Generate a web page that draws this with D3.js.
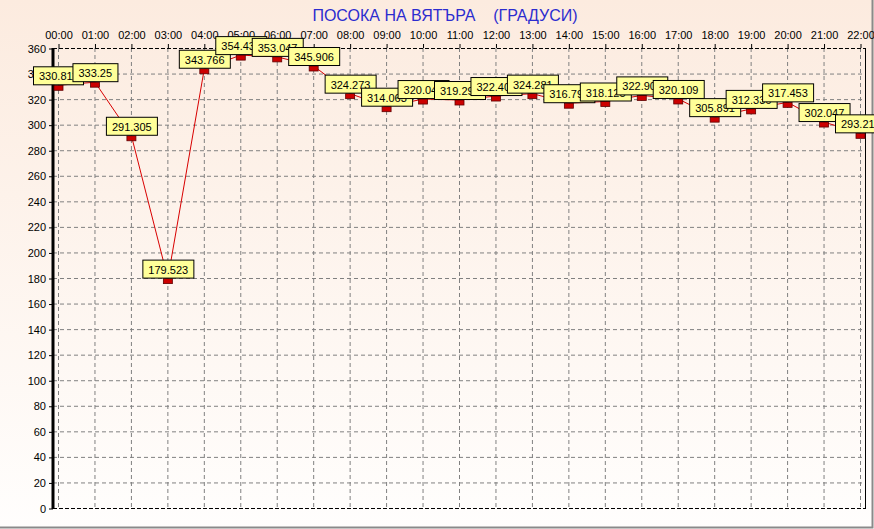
<!DOCTYPE html>
<html>
<head>
<meta charset="utf-8">
<script src="https://cdn.jsdelivr.net/npm/d3@7"></script>
<style>
  body { margin: 0; background: #fff; }
  svg { display: block; font-family: "Liberation Sans", Arial, sans-serif; }
</style>
</head>
<body>
<div class="chart"></div>
<script>
var hours = ["00:00", "01:00", "02:00", "03:00", "04:00", "05:00", "06:00", "07:00",
  "08:00", "09:00", "10:00", "11:00", "12:00", "13:00", "14:00", "15:00",
  "16:00", "17:00", "18:00", "19:00", "20:00", "21:00", "22:00"];
var direction = [330.811, 333.25, 291.305, 179.523, 343.766, 354.432, 353.047, 345.906,
  324.273, 314.063, 320.047, 319.295, 322.408, 324.281, 316.794, 318.125,
  322.903, 320.109, 305.891, 312.336, 317.453, 302.047, 293.215];
var yTicks = d3.range(0, 361, 20);
var title = "ПОСОКА НА ВЯТЪРА    (ГРАДУСИ)";

var width = 874, height = 529;
var plot = { left: 53, right: 865, top: 48, bottom: 508 };

var data = hours.map((h, i) => ({ hour: h, value: direction[i] }));

var svg = d3.select(".chart")
  .append("svg")
  .attr("width", width)
  .attr("height", height);

// background gradient
var grad = svg.append("defs").append("linearGradient")
  .attr("id", "bg")
  .attr("x1", 0).attr("y1", 0).attr("x2", 0).attr("y2", 1);
grad.append("stop").attr("offset", "0%").attr("stop-color", "#fcebdf");
grad.append("stop").attr("offset", "100%").attr("stop-color", "#fffefd");

svg.append("rect")
  .attr("width", width).attr("height", height)
  .attr("fill", "url(#bg)");

// bevel border right / bottom
svg.append("path")
  .attr("d", `M0,${height - 1.5}H${width - 1.5}V0`)
  .attr("fill", "none")
  .attr("stroke", "#8a8a8a")
  .attr("stroke-width", 2);

var x = d3.scalePoint()
  .domain(hours)
  .range([58, 860]);

var y = d3.scaleLinear()
  .domain([0, 360])
  .range([plot.bottom, plot.top]);

// gridlines
svg.append("g")
  .selectAll("line.h")
  .data(yTicks.filter(d => d > 0 && d < 360))
  .join("line")
  .attr("x1", plot.left).attr("x2", plot.right)
  .attr("y1", d => y(d) + 0.5).attr("y2", d => y(d) + 0.5)
  .attr("stroke", "#808080")
  .attr("stroke-dasharray", "4,3");

svg.append("g")
  .selectAll("line.v")
  .data(hours)
  .join("line")
  .attr("x1", d => x(d) + 0.5).attr("x2", d => x(d) + 0.5)
  .attr("y1", plot.top).attr("y2", plot.bottom)
  .attr("stroke", "#808080")
  .attr("stroke-dasharray", "4,3");

// frame: top & bottom dashed, right solid
svg.append("line")
  .attr("x1", plot.left).attr("x2", plot.right)
  .attr("y1", plot.top + 0.5).attr("y2", plot.top + 0.5)
  .attr("stroke", "#000").attr("stroke-dasharray", "4,2");
svg.append("line")
  .attr("x1", plot.left).attr("x2", plot.right)
  .attr("y1", plot.bottom + 0.5).attr("y2", plot.bottom + 0.5)
  .attr("stroke", "#000").attr("stroke-dasharray", "4,2");
svg.append("line")
  .attr("x1", plot.right + 0.5).attr("x2", plot.right + 0.5)
  .attr("y1", plot.top).attr("y2", plot.bottom + 1)
  .attr("stroke", "#000");

// top axis with hour labels
var xAxis = svg.append("g")
  .attr("transform", `translate(0.5, ${plot.top})`)
  .call(d3.axisTop(x).tickSize(4).tickPadding(5));
xAxis.select(".domain").remove();
xAxis.selectAll("text")
  .attr("font-size", 11)
  .attr("font-family", "Liberation Sans, Arial, sans-serif")
  .attr("fill", "#000");

// left axis
var yAxis = svg.append("g")
  .attr("transform", `translate(${plot.left}, 0.5)`)
  .call(d3.axisLeft(y).tickValues(yTicks).tickSize(4).tickPadding(3));
yAxis.select(".domain").remove();
yAxis.selectAll("text")
  .attr("font-size", 11)
  .attr("font-family", "Liberation Sans, Arial, sans-serif")
  .attr("fill", "#000");
svg.append("line")
  .attr("x1", plot.left).attr("x2", plot.left)
  .attr("y1", plot.top).attr("y2", plot.bottom + 1)
  .attr("stroke", "#000").attr("stroke-width", 3);

// title
svg.append("text")
  .attr("x", 445).attr("y", 21)
  .attr("text-anchor", "middle")
  .attr("font-size", 16)
  .attr("fill", "#2c2ccf")
  .style("white-space", "pre")
  .text(title);

// series line
var line = d3.line()
  .x(d => x(d.hour) + 0.5)
  .y(d => y(d.value));

svg.append("path")
  .datum(data)
  .attr("d", line)
  .attr("fill", "none")
  .attr("stroke", "#d80000")
  .attr("stroke-width", 1);

// markers
svg.append("g")
  .selectAll("rect")
  .data(data)
  .join("rect")
  .attr("x", d => x(d.hour) - 4)
  .attr("y", d => y(d.value))
  .attr("width", 9)
  .attr("height", 5)
  .attr("fill", "#cc0000")
  .attr("stroke", "#600000")
  .attr("stroke-width", 0.8);

// value labels, later ones drawn on top
var labels = svg.append("g")
  .selectAll("g")
  .data(data)
  .join("g")
  .attr("transform", d => `translate(${x(d.hour)}, ${y(d.value)})`);

labels.each(function (d) {
  var g = d3.select(this);
  var box = g.append("rect");
  var t = g.append("text")
    .attr("font-size", 11)
    .attr("fill", "#000")
    .text(d.value);
  var w = t.node().getComputedTextLength() + 11;
  box.attr("x", Math.round(-w / 2) + 0.5)
    .attr("y", -18.5)
    .attr("width", Math.round(w))
    .attr("height", 18)
    .attr("fill", "#ffff99")
    .attr("stroke", "#000");
  t.attr("x", Math.round(-w / 2) + 6).attr("y", -5);
});
</script>
</body>
</html>
